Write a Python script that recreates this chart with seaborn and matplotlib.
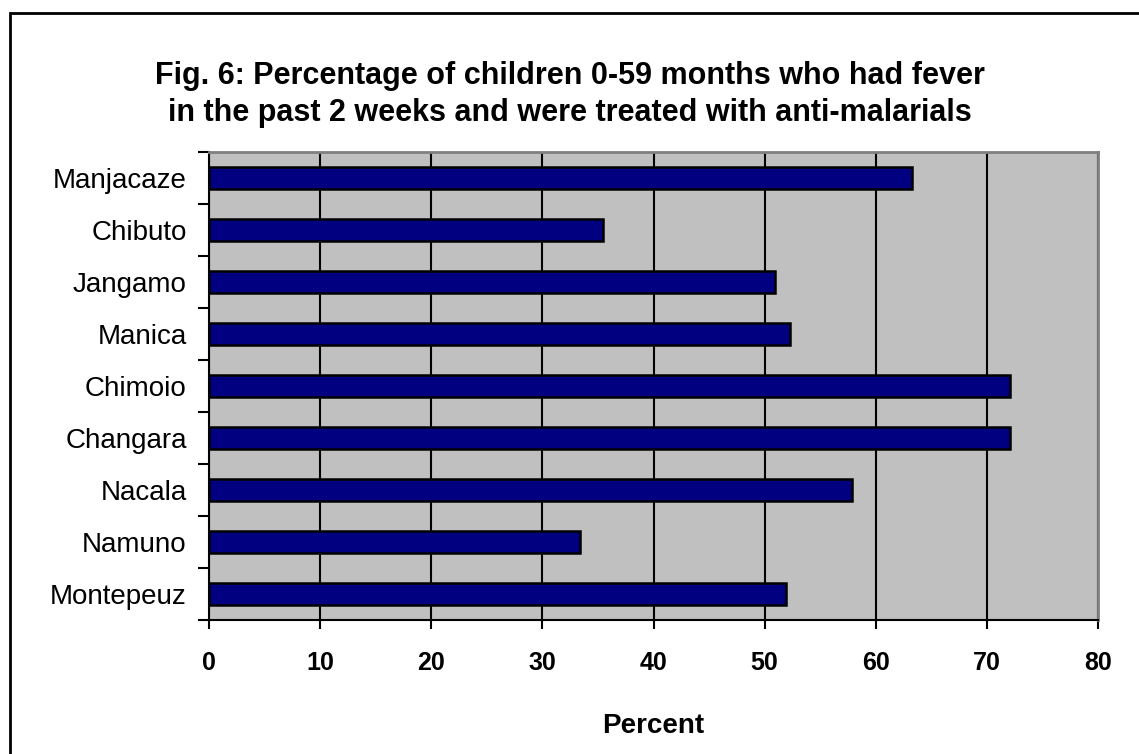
import numpy as np
import pandas as pd
import matplotlib
matplotlib.use("Agg")
import matplotlib.pyplot as plt
import seaborn as sns
from matplotlib.patches import Rectangle
from matplotlib.ticker import FixedLocator

# Districts, top to bottom, and share of febrile children treated with anti-malarials (%)
districts = ["Manjacaze", "Chibuto", "Jangamo", "Manica", "Chimoio",
             "Changara", "Nacala", "Namuno", "Montepeuz"]
percent_treated = [63.3, 35.5, 50.9, 52.3, 72.1, 72.1, 57.9, 33.4, 51.9]
x_ticks = [0, 10, 20, 30, 40, 50, 60, 70, 80]

title = ("Fig. 6: Percentage of children 0-59 months who had fever\n"
         "in the past 2 weeks and were treated with anti-malarials")
x_label = "Percent"

sns.set_style("white")
plt.rcParams["font.family"] = ["Liberation Sans", "DejaVu Sans"]
plt.rcParams["text.color"] = "black"
plt.rcParams["xtick.color"] = "black"
plt.rcParams["ytick.color"] = "black"
plt.rcParams["axes.labelcolor"] = "black"

W, H = 1139, 754
fig = plt.figure(figsize=(W / 100, H / 100), dpi=100)
fig.patch.set_facecolor("white")

# outer frame of the figure (open on the right and bottom)
fig.patches.append(Rectangle((10 / W, -0.05), 1.2, 1 - 13 / H + 0.05,
                             transform=fig.transFigure, fill=False,
                             edgecolor="black", linewidth=2.0, zorder=0))

left, right, top, bottom = 209, 1098, 152, 620
ax = fig.add_axes([left / W, 1 - bottom / H, (right - left) / W, (bottom - top) / H])

df = pd.DataFrame({"district": districts, "percent": percent_treated})
sns.barplot(data=df, x="percent", y="district", order=districts,
            color="#000080", saturation=1, width=0.42,
            edgecolor="black", linewidth=1.8, ax=ax, zorder=3)

ax.set_facecolor("#C0C0C0")
ax.set_xlim(0, 80)
ax.set_ylim(len(districts) - 0.5, -0.5)
ax.set_xticks(x_ticks)
ax.set_xticklabels([str(t) for t in x_ticks], fontsize=18, fontweight="bold")
ax.set_yticks(range(len(districts)))
ax.set_yticklabels(districts, fontsize=20)
ax.yaxis.set_minor_locator(FixedLocator(np.arange(-0.5, len(districts), 1.0)))

ax.grid(axis="x", color="black", linewidth=1.5, zorder=1)
ax.grid(axis="y", visible=False)
ax.set_axisbelow(True)

ax.tick_params(axis="y", which="major", left=True, length=0, pad=16)
ax.tick_params(axis="y", which="minor", left=True, length=8, width=1.5,
               direction="out", color="black")
ax.tick_params(axis="x", which="major", bottom=True, length=6.5, width=1.5,
               direction="out", color="black", pad=16)

for side in ("left", "bottom"):
    ax.spines[side].set_color("black")
    ax.spines[side].set_linewidth(1.5)
for side in ("top", "right"):
    ax.spines[side].set_color("#808080")
    ax.spines[side].set_linewidth(2.0)
    ax.spines[side].set_visible(True)

ax.set_ylabel("")
ax.set_xlabel(x_label, fontsize=20, fontweight="bold", labelpad=27)

# title block; baseline of the second line sits just above the plot
fig.text(0.5, 1 - 121 / H, title, ha="center", va="baseline",
         fontsize=22, fontweight="bold", linespacing=1.3)

fig.savefig("out.png", dpi=100, facecolor="white")
